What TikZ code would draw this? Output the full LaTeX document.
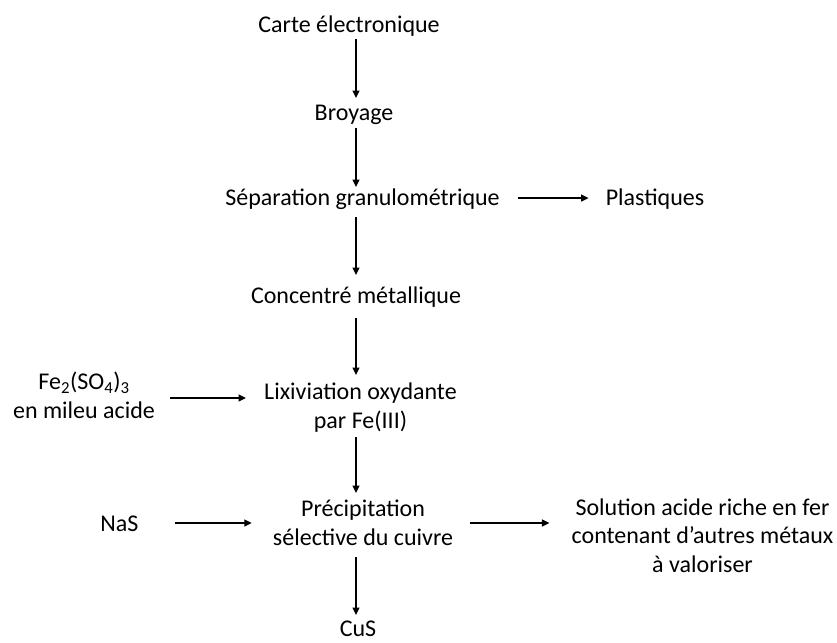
\documentclass[tikz,border=0pt]{standalone}
\usepackage{fontspec}
\setmainfont{Carlito}
\usetikzlibrary{arrows.meta}
\begin{document}
\begin{tikzpicture}[x=1pt,y=-1pt,
  lbl/.style={inner sep=0pt, anchor=base, align=center, font=\fontsize{24}{28.5}\selectfont},
  arr/.style={line width=1.4pt, -{Triangle[length=7.5pt,width=7pt]}}]
\useasboundingbox (0,0) rectangle (837,642);
\coordinate (col) at (356,0);
\node[lbl] (carte) at (349,32.5) {Carte électronique};
\node[lbl] (broy) at (354,120) {Broyage};
\node[lbl] (sep) at (362.5,205) {Séparation granulométrique};
\node[lbl] (pla) at (655,205) {Plastiques};
\node[lbl] (con) at (356,303) {Concentré métallique};
\node[lbl] (fe) at (84,418) {Fe\textsubscript{2}(SO\textsubscript{4})\textsubscript{3}\\en mileu acide};
\node[lbl] (lix) at (360.5,428) {Lixiviation oxydante\\par Fe(III)};
\node[lbl] (nas) at (119.5,531) {NaS};
\node[lbl] (pre) at (363,545) {Précipitation\\sélective du cuivre};
\node[lbl] (sol) at (702.5,572) {Solution acide riche en fer\\contenant d’autres métaux\\à valoriser};
\node[lbl] (cus) at (358,636) {CuS};
% vertical
\draw[arr] ([yshift=-6.5pt]carte.base -| col) -- ([yshift=22pt]broy.base -| col);
\draw[arr] ([yshift=-8pt]broy.base -| col) -- ([yshift=18pt]sep.base -| col);
\draw[arr] ([yshift=-12pt]sep.base -| col) -- ([yshift=28pt]con.base -| col);
\draw[arr] ([yshift=-15pt]con.base -| col) -- ([yshift=53pt]lix.base -| col);
\draw[arr] ([yshift=-9pt]lix.base -| col) -- ([yshift=52pt]pre.base -| col);
\draw[arr] ([yshift=-12pt]pre.base -| col) -- ([yshift=21pt]cus.base -| col);
% horizontal
\draw[arr] ([shift={(18pt,7pt)}]sep.base east) -- ([shift={(-17pt,7pt)}]pla.base west);
\draw[arr] ([shift={(15pt,20pt)}]fe.base east) -- ([shift={(-18pt,30pt)}]lix.base west);
\draw[arr] ([shift={(36pt,8pt)}]nas.base east) -- ([shift={(-21pt,22pt)}]pre.base west);
\draw[arr] ([shift={(17pt,22pt)}]pre.base east) -- ([shift={(-22pt,49pt)}]sol.base west);
\end{tikzpicture}
\end{document}
